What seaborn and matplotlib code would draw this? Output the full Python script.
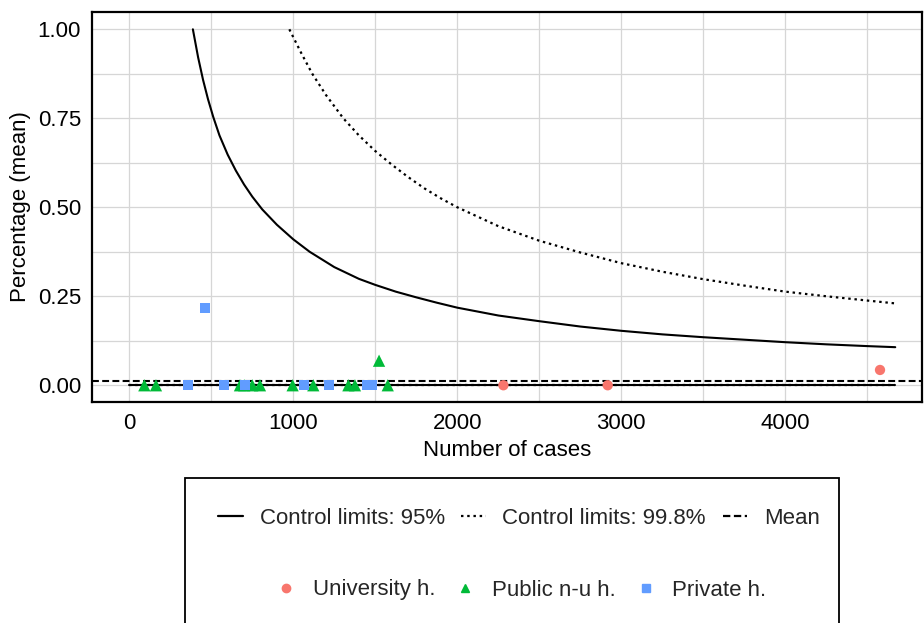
import matplotlib
matplotlib.use("Agg")
import matplotlib.pyplot as plt
from matplotlib.ticker import MultipleLocator, FormatStrFormatter
from matplotlib.lines import Line2D
from matplotlib.patches import Rectangle
import pandas as pd
import seaborn as sns

# upper control limit 95%
ucl95_n = [388, 420, 450, 480, 512, 550, 600, 650, 700, 750, 811, 900, 1000,
           1100, 1250, 1400, 1500, 1625, 1750, 1875, 2000, 2250, 2500, 2750,
           3000, 3250, 3500, 3750, 4000, 4250, 4500, 4670]
ucl95_p = [1.000, 0.921, 0.858, 0.804, 0.754, 0.702, 0.648, 0.603, 0.564, 0.530,
           0.494, 0.451, 0.410, 0.375, 0.332, 0.299, 0.282, 0.263, 0.247, 0.232,
           0.218, 0.196, 0.180, 0.165, 0.153, 0.143, 0.135, 0.128, 0.121, 0.115,
           0.110, 0.107]

# upper control limit 99.8%
ucl998_n = [976, 1000, 1050, 1116, 1200, 1305, 1400, 1500, 1600, 1700, 1800,
            1900, 2000, 2250, 2500, 2750, 3000, 3250, 3500, 3750, 4000, 4250,
            4500, 4670]
ucl998_p = [1.000, 0.978, 0.932, 0.875, 0.815, 0.750, 0.702, 0.658, 0.620, 0.585,
            0.553, 0.525, 0.500, 0.447, 0.406, 0.373, 0.343, 0.319, 0.298, 0.280,
            0.263, 0.250, 0.238, 0.230]

# lower limits are clipped at zero
lcl_n = [0, 4670]
lcl95_p = [0.0, 0.0]
lcl998_p = [0.0, 0.0]

mean_pct = 0.013

# hospitals
hosp_type = (["Public n-u h."] * 12 + ["Private h."] * 8 + ["University h."] * 3)
hosp_n = [92, 163, 675, 701, 750, 797, 996, 1122, 1336, 1376, 1523, 1576,
          356, 462, 575, 705, 1063, 1216, 1447, 1478,
          2281, 2917, 4577]
hosp_p = [0, 0, 0, 0, 0, 0, 0, 0, 0, 0, 0.069, 0,
          0, 0.217, 0, 0, 0, 0, 0, 0,
          0, 0, 0.043]

types = ["University h.", "Public n-u h.", "Private h."]
colors = {"University h.": "#F8766D", "Public n-u h.": "#00BA38", "Private h.": "#619CFF"}
markers = {"University h.": "o", "Public n-u h.": "^", "Private h.": "s"}
msizes = {"University h.": 55, "Public n-u h.": 78, "Private h.": 52}

dotted = (0, (1.1, 1.7))
dashed = (0, (3.3, 1.6))

sns.set_theme(style="white")
plt.rcParams['font.family'] = ['Liberation Sans', 'DejaVu Sans']
FS = 16

fig = plt.figure(figsize=(9.24, 6.23), dpi=100)
ax = fig.add_axes([92/924, 1-402/623, 830/924, 390/623])

df95 = pd.DataFrame({"n": ucl95_n, "p": ucl95_p})
df998 = pd.DataFrame({"n": ucl998_n, "p": ucl998_p})
dflow = pd.DataFrame({"n": lcl_n, "p95": lcl95_p, "p998": lcl998_p})

sns.lineplot(data=df95, x="n", y="p", color="black", lw=1.5, ax=ax, estimator=None)
sns.lineplot(data=df998, x="n", y="p", color="black", lw=1.6, ax=ax,
             estimator=None, linestyle=dotted)
sns.lineplot(data=dflow, x="n", y="p998", color="black", lw=1.6, ax=ax,
             estimator=None, linestyle=dotted)
sns.lineplot(data=dflow, x="n", y="p95", color="black", lw=1.5, ax=ax, estimator=None)
ax.axhline(mean_pct, color="black", lw=1.5, linestyle=dashed)

pts = pd.DataFrame({"n": hosp_n, "p": hosp_p, "type": hosp_type})
sns.scatterplot(data=pts, x="n", y="p", hue="type", style="type", size="type",
                palette=colors, markers=markers, sizes=msizes, linewidth=0,
                legend=False, ax=ax, zorder=5)

ax.set_xlim(-227, 4833)
ax.set_ylim(-0.047, 1.0486)
ax.xaxis.set_major_locator(MultipleLocator(1000))
ax.xaxis.set_minor_locator(MultipleLocator(500))
ax.yaxis.set_major_locator(MultipleLocator(0.25))
ax.yaxis.set_minor_locator(MultipleLocator(0.125))
ax.yaxis.set_major_formatter(FormatStrFormatter("%.2f"))
ax.grid(which="both", color="#d6d6d6", lw=0.9)
ax.set_axisbelow(True)
ax.tick_params(which="both", length=0, labelsize=FS, colors="black")
ax.tick_params(axis="y", pad=8)
ax.tick_params(axis="x", pad=8)
for s in ax.spines.values():
    s.set_color("black")
    s.set_linewidth(1.6)

ax.set_xlabel("Number of cases", fontsize=FS, color="black", labelpad=4)
ax.set_ylabel("Percentage (mean)", fontsize=FS, color="black", labelpad=5)

# legend box
fig.patches.append(Rectangle((185/924, -0.1), 654/924, 0.1 + 1 - 478/623,
                             transform=fig.transFigure, fill=False,
                             edgecolor="black", lw=1.3))

line_handles = [
    Line2D([], [], color="black", lw=1.6),
    Line2D([], [], color="black", lw=1.6, linestyle=dotted),
    Line2D([], [], color="black", lw=1.6, linestyle=dashed),
]
line_labels = ["Control limits: 95%", "Control limits: 99.8%", "Mean"]
fig.legend(line_handles, line_labels, loc="center", ncol=3, frameon=False,
           bbox_to_anchor=(519/924, 1-518/623), fontsize=FS,
           handlelength=1.1, handletextpad=0.75, columnspacing=0.75)

pt_handles = [Line2D([], [], marker=markers[t], color=colors[t], linestyle="",
                     markersize=6) for t in types]
fig.legend(pt_handles, types, loc="center", ncol=3, frameon=False,
           bbox_to_anchor=(520/924, 1-590/623), fontsize=FS,
           handlelength=1.1, handletextpad=0.65, columnspacing=0.8)

fig.savefig("out.png", dpi=100)
